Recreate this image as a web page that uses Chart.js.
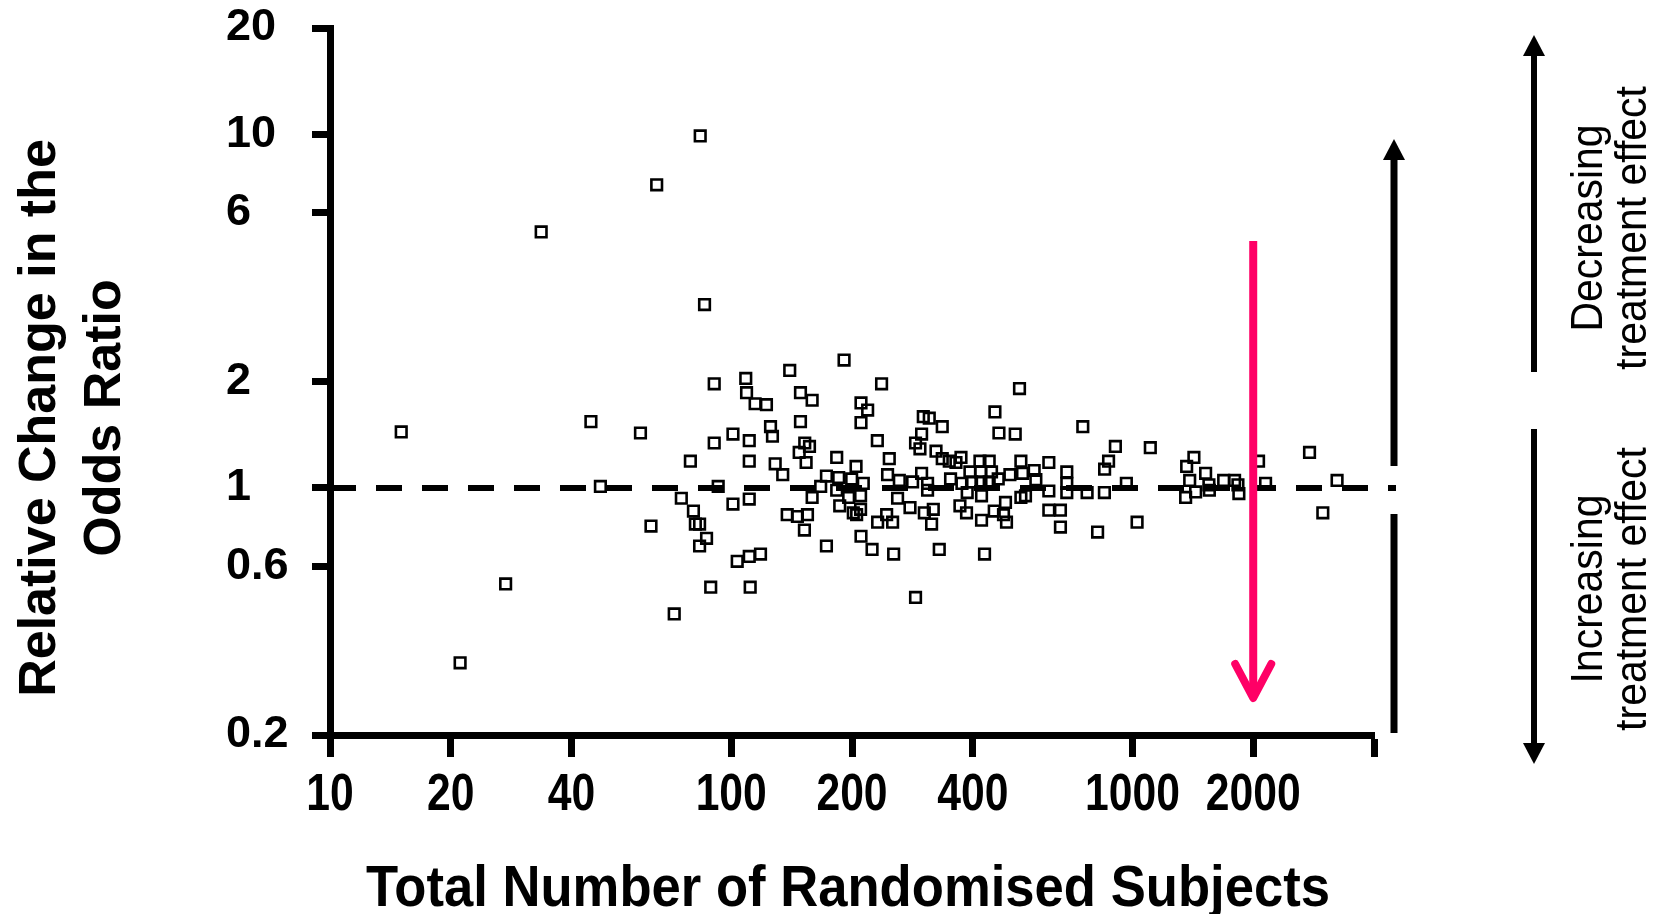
<!DOCTYPE html>
<html>
<head>
<meta charset="utf-8">
<title>Relative change in the odds ratio vs trial size</title>
<script src="https://cdn.jsdelivr.net/npm/chart.js@4.4.1/dist/chart.umd.min.js"></script>
<style>
    html, body { margin: 0; padding: 0; background: #ffffff; }
    #wrap { width: 1661px; height: 914px; }
</style>
</head>
<body>
<div id="wrap"><canvas id="funnelChart" width="1661" height="914"></canvas></div>
<script>
// total number of randomised subjects per trial
const subjects = [
    15.05, 21.1, 27.4, 33.6, 44.7, 47.2, 59.4, 65.2, 83.7, 85.8,
    63.1, 72.1, 75.1, 79.1, 80.5, 81.4, 83.4, 86.8, 83.4, 88.9,
    90.7, 90.7, 92.8, 101, 101, 103.5, 108.7, 109.2, 110.9, 110.9,
    110.9, 110.9, 111.5, 114.7, 118.3, 122.4, 125.3, 126.7, 128.7, 134.4,
    137.9, 139.9, 146.2, 147.7, 148.8, 148.8, 152.5, 156.7, 153.7, 154.9,
    152.2, 159.1, 159.1, 167.1, 172.7, 172.7, 183.2, 183.2, 185.3, 186.4,
    191.1, 196.2, 201.5, 205.4, 210.1, 210.1, 204.7, 210.6, 218.8, 210.6,
    210.6, 224.4, 231.3, 231.7, 237, 244, 252.5, 245.3, 247.7, 254,
    259.8, 262.4, 279, 283.2, 288, 295.4, 288, 298.2, 298.2, 301.1,
    311.6, 302.9, 308.6, 308.6, 318.9, 315.8, 323.9, 330, 335.7, 335.7,
    349.5, 363.2, 373.8, 352.1, 375.9, 371.6, 385.9, 387.4, 393.5, 397.2,
    416.8, 418.2, 419.2, 420.6, 420.6, 427.9, 439.5, 445.4, 439.5, 454.2,
    464.8, 462.9, 452.4, 482.6, 477.1, 485.4, 495, 523, 510.3, 527.2,
    532.1, 527.2, 541.3, 568.9, 574.5, 618.9, 618.9, 618.9, 661.5, 661.5,
    686.1, 686.1, 686.1, 752.1, 770.9, 818.8, 851.3, 852.4, 872, 906.7,
    965.7, 1027, 1108, 1357, 1365, 1423, 1389, 1437, 1522, 1551,
    1555, 1688, 1797, 1832, 1842, 2062, 2147, 2763, 2982, 3236,
    199.6, 213.4
];

// relative change in the odds ratio for the same trials
const orChange = [
    1.44, 0.32, 0.535, 5.3, 1.54, 1.01, 1.43, 7.2, 9.9, 3.3,
    0.78, 0.44, 0.935, 1.19, 0.86, 0.79, 0.79, 0.72, 0.685, 0.524,
    1.97, 1.34, 1.01, 1.42, 0.90, 0.62, 2.04, 1.86, 1.36, 1.19,
    0.93, 0.64, 0.524, 1.73, 0.65, 1.72, 1.49, 1.40, 1.17, 1.09,
    0.84, 2.15, 0.83, 1.26, 1.86, 1.54, 1.34, 1.31, 1.18, 0.84,
    0.76, 1.77, 0.94, 1.01, 1.08, 0.685, 1.22, 0.985, 1.07, 0.89,
    2.30, 0.94, 0.85, 0.84, 0.87, 0.95, 1.15, 1.74, 1.66, 1.53,
    0.73, 0.67, 1.36, 0.80, 1.97, 0.84, 0.80, 1.09, 1.21, 0.65,
    0.935, 1.05, 0.88, 1.04, 1.34, 1.29, 0.49, 1.42, 1.10, 1.59,
    1.575, 0.85, 1.03, 0.985, 0.87, 0.79, 1.27, 0.67, 1.49, 1.21,
    1.19, 1.18, 1.22, 1.06, 1.03, 0.89, 0.85, 0.97, 1.11, 1.04,
    1.19, 1.11, 1.04, 0.95, 0.81, 0.65, 1.19, 1.11, 1.04, 1.64,
    1.43, 1.06, 0.86, 0.91, 0.84, 0.80, 1.09, 1.91, 1.42, 1.19,
    1.10, 0.94, 0.95, 1.12, 1.055, 1.18, 0.98, 0.865, 0.865, 0.775,
    1.11, 1.03, 0.97, 1.49, 0.97, 0.75, 0.97, 1.13, 1.19, 1.31,
    1.03, 0.80, 1.30, 0.94, 1.15, 1.22, 1.05, 0.974, 1.10, 1.02,
    0.985, 1.05, 1.05, 1.02, 0.964, 1.19, 1.03, 1.26, 0.85, 1.05,
    1.06, 1.03
];

const xTicks = [10, 20, 40, 100, 200, 400, 1000, 2000, 4000];
const xTickLabels = ['10', '20', '40', '100', '200', '400', '1000', '2000', ''];
const yTicks = [0.2, 0.6, 1, 2, 6, 10, 20];
const yTickLabels = ['0.2', '0.6', '1', '2', '6', '10', '20'];

const noEffectLine = 1;      // dashed reference line
const markedTrialSize = 2000; // pink arrow position

const yTitle = ['Relative Change in the', 'Odds Ratio'];
const xTitle = 'Total Number of Randomised Subjects';
const upperNote = ['Decreasing', 'treatment effect'];
const lowerNote = ['Increasing', 'treatment effect'];

// text helper: optional horizontal squeeze to mimic a narrow typeface
function putText(ctx, text, x, y, font, squeeze, angle) {
    ctx.save();
    ctx.translate(x, y);
    if (angle) ctx.rotate(angle);
    ctx.scale(squeeze, 1);
    ctx.font = font;
    ctx.fillText(text, 0, 0);
    ctx.restore();
}

function arrowHead(ctx, x, tipY, dir, half, len) {
    ctx.beginPath();
    ctx.moveTo(x, tipY);
    ctx.lineTo(x - half, tipY + dir * len);
    ctx.lineTo(x + half, tipY + dir * len);
    ctx.closePath();
    ctx.fill();
}

function vline(ctx, x, y1, y2) {
    ctx.beginPath();
    ctx.moveTo(x, y1);
    ctx.lineTo(x, y2);
    ctx.stroke();
}

const decorations = {
    id: 'decorations',
    afterDatasetsDraw(chart) {
        const { ctx, chartArea: area, scales: { x, y } } = chart;
        ctx.save();

        // dashed line at no change
        const yRef = y.getPixelForValue(noEffectLine);
        ctx.strokeStyle = '#000';
        ctx.lineWidth = 6;
        ctx.setLineDash([26, 20]);
        ctx.beginPath();
        ctx.moveTo(area.left, yRef);
        ctx.lineTo(area.right + 22, yRef);
        ctx.stroke();
        ctx.setLineDash([]);

        // pink arrow at 2000 subjects
        const px = x.getPixelForValue(markedTrialSize);
        ctx.strokeStyle = '#ff0066';
        ctx.lineWidth = 8;
        vline(ctx, px, 241, 696);
        ctx.lineCap = 'round';
        ctx.lineJoin = 'round';
        ctx.beginPath();
        ctx.moveTo(px - 18, 664);
        ctx.lineTo(px, 698);
        ctx.lineTo(px + 18, 664);
        ctx.stroke();
        ctx.lineCap = 'butt';

        // black arrow right of the plot
        ctx.strokeStyle = '#000';
        ctx.fillStyle = '#000';
        ctx.lineWidth = 7;
        const ax = area.right + 20;
        vline(ctx, ax, 158, 466);
        vline(ctx, ax, 514, 733);
        arrowHead(ctx, ax, 139, 1, 11, 21);

        // double arrow beside the notes
        const bx = 1534;
        ctx.lineWidth = 6;
        vline(ctx, bx, 52, 372);
        vline(ctx, bx, 429, 746);
        arrowHead(ctx, bx, 35, 1, 11, 21);
        arrowHead(ctx, bx, 764, -1, 11, 21);

        ctx.restore();
    },
    afterDraw(chart) {
        const { ctx, chartArea: area, scales: { x } } = chart;
        ctx.save();
        ctx.fillStyle = '#000';
        ctx.textAlign = 'center';
        ctx.textBaseline = 'middle';

        // x tick labels (narrow bold)
        x.ticks.forEach((t, i) => {
            const label = xTickLabels[i];
            if (!label) return;
            putText(ctx, label, x.getPixelForValue(t.value), area.bottom + 61,
                'bold 52px "Liberation Sans", Arial, sans-serif', 0.82, 0);
        });

        // x title, squeezed to the reference width
        ctx.font = 'bold 58px "Liberation Sans", Arial, sans-serif';
        const w = ctx.measureText(xTitle).width;
        ctx.textBaseline = 'alphabetic';
        putText(ctx, xTitle, (area.left + area.right) / 2 - 4, 906,
            'bold 58px "Liberation Sans", Arial, sans-serif', 964 / w, 0);

        // y title, two lines rotated
        ctx.textBaseline = 'middle';
        putText(ctx, yTitle[0], 41, 418, 'bold 52px "Liberation Sans", Arial, sans-serif', 1, -Math.PI / 2);
        putText(ctx, yTitle[1], 106, 418, 'bold 52px "Liberation Sans", Arial, sans-serif', 1, -Math.PI / 2);

        // notes at the right edge
        const noteFont = '45px "Liberation Sans", Arial, sans-serif';
        putText(ctx, upperNote[0], 1590, 228, noteFont, 0.91, -Math.PI / 2);
        putText(ctx, upperNote[1], 1634, 228, noteFont, 0.91, -Math.PI / 2);
        putText(ctx, lowerNote[0], 1590, 589, noteFont, 0.91, -Math.PI / 2);
        putText(ctx, lowerNote[1], 1634, 589, noteFont, 0.91, -Math.PI / 2);

        ctx.restore();
    }
};

const points = subjects.map((n, i) => ({ x: n, y: orChange[i] }));

const ctx = document.getElementById('funnelChart').getContext('2d');
new Chart(ctx, {
    type: 'scatter',
    data: {
        datasets: [{
            data: points,
            pointStyle: 'rect',
            pointRadius: 7.5,
            pointHoverRadius: 7.5,
            borderWidth: 2.6,
            borderColor: '#000000',
            backgroundColor: 'rgba(0,0,0,0)'
        }]
    },
    options: {
        responsive: false,
        animation: false,
        events: [],
        layout: { padding: { left: 226, right: 287, top: 28, bottom: 0 } },
        plugins: {
            legend: { display: false },
            tooltip: { enabled: false }
        },
        scales: {
            x: {
                type: 'logarithmic',
                min: 10,
                max: 4000,
                afterBuildTicks: (scale) => { scale.ticks = xTicks.map(v => ({ value: v })); },
                afterFit: (scale) => { scale.height = 179; },
                grid: { display: true, drawOnChartArea: false, drawTicks: true, tickLength: 22, tickWidth: 7, tickColor: '#000' },
                border: { display: true, width: 7, color: '#000' },
                ticks: { display: false }
            },
            y: {
                type: 'logarithmic',
                min: 0.2,
                max: 20,
                afterBuildTicks: (scale) => { scale.ticks = yTicks.map(v => ({ value: v })); },
                afterFit: (scale) => { scale.width = 104; },
                grid: { display: true, drawOnChartArea: false, drawTicks: true, tickLength: 18, tickWidth: 7, tickColor: '#000' },
                border: { display: true, width: 7, color: '#000' },
                ticks: {
                    crossAlign: 'far',
                    padding: 0,
                    color: '#000',
                    font: { family: '"Liberation Sans", Arial, sans-serif', weight: 'bold', size: 45 },
                    callback: (value, index) => yTickLabels[index]
                }
            }
        }
    },
    plugins: [decorations]
});
</script>
</body>
</html>
